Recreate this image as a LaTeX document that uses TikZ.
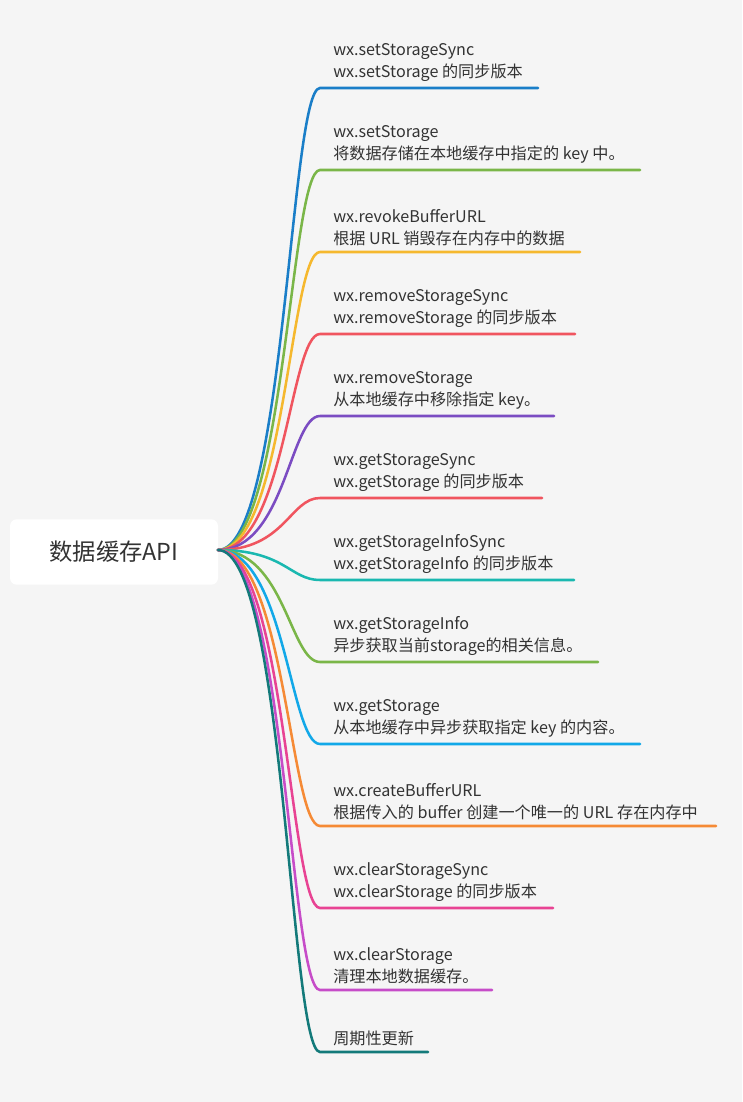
\documentclass[tikz,border=0pt]{standalone}
\usepackage{fontspec}
\setmainfont{Noto Sans CJK SC}
\definecolor{bg}{HTML}{F5F5F5}
\definecolor{txt}{HTML}{333333}
\definecolor{c1}{HTML}{1A7EC8}
\definecolor{c2}{HTML}{7AB648}
\definecolor{c3}{HTML}{F5B82E}
\definecolor{c4}{HTML}{F0555F}
\definecolor{c5}{HTML}{7B4CC2}
\definecolor{c6}{HTML}{F0555F}
\definecolor{c7}{HTML}{1AB8B0}
\definecolor{c8}{HTML}{7AB648}
\definecolor{c9}{HTML}{12A8E8}
\definecolor{c10}{HTML}{F58A35}
\definecolor{c11}{HTML}{E84393}
\definecolor{c12}{HTML}{C64CC8}
\definecolor{c13}{HTML}{137A7A}
\tikzset{
 leaf/.style={anchor=south west,align=left,inner sep=0pt,font=\fontsize{12.1}{16.5}\selectfont,text=txt},
 branch/.style={line width=1.9pt,line cap=round},
}
\begin{document}
\begin{tikzpicture}[x=0.75pt,y=-0.75pt]
\fill[bg] (0,0) rectangle (742,1102);
\useasboundingbox (0,0) rectangle (742,1102);
\node[fill=white,rounded corners=5pt,minimum width=156pt,minimum height=49pt,inner sep=0pt,
 font=\fontsize{17.5}{20}\selectfont,text=txt] (root) at (114,552) {数据缓存API};
\coordinate (o) at (218,550);
\foreach \i/\y/\e/\t in {
 1/88/538/{wx.setStorageSync\\wx.setStorage 的同步版本},
 2/170/640/{wx.setStorage\\将数据存储在本地缓存中指定的 key 中。},
 3/252/580/{wx.revokeBufferURL\\根据 URL 销毁存在内存中的数据},
 4/334/575/{wx.removeStorageSync\\wx.removeStorage 的同步版本},
 5/416/554/{wx.removeStorage\\从本地缓存中移除指定 key。},
 6/498/542/{wx.getStorageSync\\wx.getStorage 的同步版本},
 7/580/574/{wx.getStorageInfoSync\\wx.getStorageInfo 的同步版本},
 8/662/598/{wx.getStorageInfo\\异步获取当前storage的相关信息。},
 9/744/640/{wx.getStorage\\从本地缓存中异步获取指定 key 的内容。},
 10/826/716/{wx.createBufferURL\\根据传入的 buffer 创建一个唯一的 URL 存在内存中},
 11/908/553/{wx.clearStorageSync\\wx.clearStorage 的同步版本},
 12/990/492/{wx.clearStorage\\清理本地数据缓存。},
 13/1052/428/{周期性更新}}{
 \node[leaf] (n\i) at (333,\y-6) {\t};
 \coordinate (s\i) at (320,\y);
 \coordinate (e\i) at (\e,\y);
 \draw[branch,c\i] (o) .. controls (285,550) and (290,\y) .. (s\i) -- (e\i);
}
\end{tikzpicture}
\end{document}
